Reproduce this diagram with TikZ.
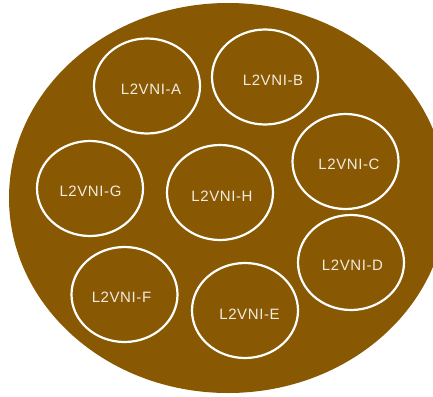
\documentclass[tikz,border=0pt]{standalone}
\usepackage{fontspec}
\setmainfont{Liberation Sans}
\usepackage{tikz}
\usetikzlibrary{shapes.geometric}
\definecolor{vnibrown}{RGB}{136, 88, 2}
\definecolor{vnitext}{RGB}{242, 236, 224}

\begin{document}
\begin{tikzpicture}[
  x=1pt, y=-1pt,
  fabric/.style={
    ellipse, fill=vnibrown, draw=none,
    minimum width=438pt, minimum height=390pt, inner sep=0pt
  },
  vni/.style={
    ellipse, draw=white, line width=2.2pt,
    minimum width=106pt, minimum height=95pt, inner sep=0pt
  },
  lbl/.style={
    text=vnitext, font=\fontsize{15}{17}\selectfont\addfontfeature{LetterSpace=4}
  }
]
  \useasboundingbox (0,0) rectangle (433,396);
  \node[fabric] (fab) at (228,198) {};

  \node[vni] (a) at (147,86) {};
  \node[vni] (b) at (265,77) {};
  \node[vni] (c) at (345.5,161.5) {};
  \node[vni] (g) at (90,188.5) {};
  \node[vni] (h) at (220,192.5) {};
  \node[vni] (d) at (351,262.5) {};
  \node[vni] (f) at (124.5,294.5) {};
  \node[vni] (e) at (245,310.5) {};

  \node[lbl] (ta) at (151,89.5) {L2VNI-A};
  \node[lbl] (tb) at (273,80.5) {L2VNI-B};
  \node[lbl] (tc) at (349,164) {L2VNI-C};
  \node[lbl] (tg) at (90.5,191) {L2VNI-G};
  \node[lbl] (th) at (222,196) {L2VNI-H};
  \node[lbl] (td) at (352.5,265) {L2VNI-D};
  \node[lbl] (tf) at (121.5,297) {L2VNI-F};
  \node[lbl] (te) at (249.5,314) {L2VNI-E};
\end{tikzpicture}
\end{document}
